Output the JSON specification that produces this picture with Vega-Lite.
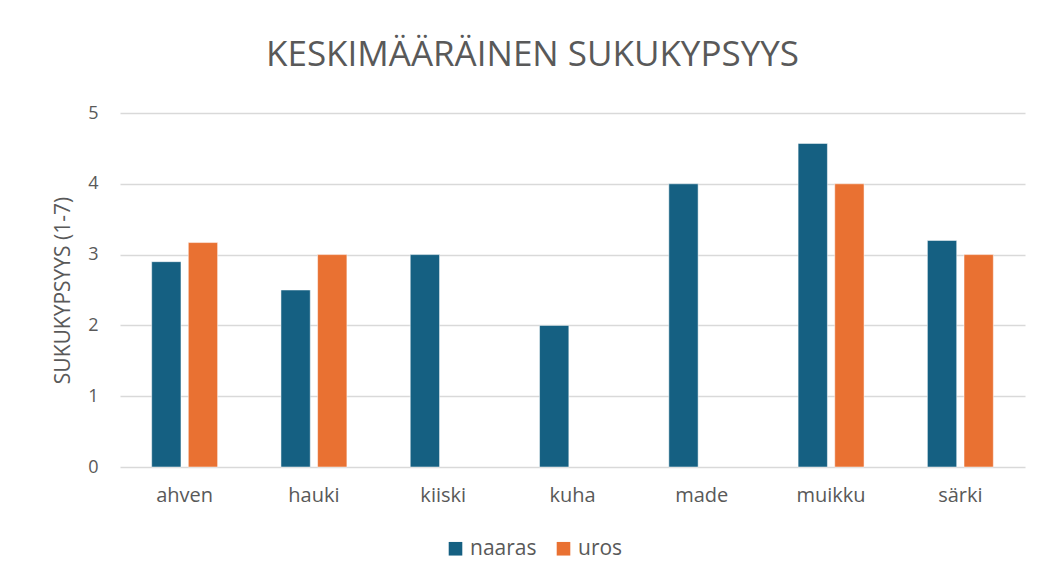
{
  "$schema": "https://vega.github.io/schema/vega-lite/v6.json",
  "autosize": {"type": "none"},
  "width": 905,
  "height": 354,
  "padding": {"left": 120, "top": 113, "right": 15, "bottom": 113},
  "background": "white",
  "title": {
    "text": "KESKIMÄÄRÄINEN SUKUKYPSYYS",
    "anchor": "middle",
    "frame": "group",
    "dx": -40,
    "offset": 31,
    "font": "Open Sans",
    "fontSize": 35,
    "fontWeight": "normal",
    "color": "#595959"
  },
  "data": {
    "values": [
      {"laji": "ahven", "sukupuoli": "naaras", "arvo": 2.9},
      {"laji": "ahven", "sukupuoli": "uros", "arvo": 3.17},
      {"laji": "hauki", "sukupuoli": "naaras", "arvo": 2.5},
      {"laji": "hauki", "sukupuoli": "uros", "arvo": 3.0},
      {"laji": "kiiski", "sukupuoli": "naaras", "arvo": 3.0},
      {"laji": "kuha", "sukupuoli": "naaras", "arvo": 2.0},
      {"laji": "made", "sukupuoli": "naaras", "arvo": 4.0},
      {"laji": "muikku", "sukupuoli": "naaras", "arvo": 4.57},
      {"laji": "muikku", "sukupuoli": "uros", "arvo": 4.0},
      {"laji": "särki", "sukupuoli": "naaras", "arvo": 3.2},
      {"laji": "särki", "sukupuoli": "uros", "arvo": 3.0}
    ]
  },
  "mark": {"type": "bar", "stroke": "white", "strokeWidth": 0.5},
  "encoding": {
    "x": {
      "field": "laji",
      "type": "nominal",
      "sort": ["ahven", "hauki", "kiiski", "kuha", "made", "muikku", "särki"],
      "scale": {"paddingInner": 0.49, "paddingOuter": 0.245},
      "axis": {
        "title": null,
        "labelAngle": 0,
        "labelFont": "Open Sans",
        "labelFontSize": 20,
        "labelColor": "#595959",
        "labelPadding": 18,
        "ticks": false,
        "domain": false
      }
    },
    "xOffset": {
      "field": "sukupuoli",
      "type": "nominal",
      "scale": {"paddingInner": 0.2, "paddingOuter": 0}
    },
    "y": {
      "field": "arvo",
      "type": "quantitative",
      "scale": {"domain": [0, 5], "nice": false},
      "axis": {
        "title": "SUKUKYPSYYS (1-7)",
        "titleFont": "Open Sans",
        "titleFontSize": 21,
        "titleFontWeight": "normal",
        "titleColor": "#595959",
        "titlePadding": 14,
        "values": [0, 1, 2, 3, 4, 5],
        "labelFont": "Open Sans",
        "labelFontSize": 18,
        "labelColor": "#595959",
        "labelPadding": 22,
        "ticks": false,
        "domain": false,
        "grid": true,
        "gridColor": "#d9d9d9",
        "gridWidth": 1.5
      }
    },
    "color": {
      "field": "sukupuoli",
      "type": "nominal",
      "scale": {"domain": ["naaras", "uros"], "range": ["#156082", "#E97132"]},
      "legend": {
        "title": null,
        "orient": "none",
        "direction": "horizontal",
        "legendX": 325,
        "legendY": 425,
        "symbolType": "square",
        "symbolSize": 185,
        "symbolStrokeWidth": 0,
        "labelFont": "Open Sans",
        "labelFontSize": 21,
        "labelColor": "#595959",
        "labelOffset": 4,
        "columnPadding": 16
      }
    }
  },
  "config": {"view": {"stroke": null}}
}
